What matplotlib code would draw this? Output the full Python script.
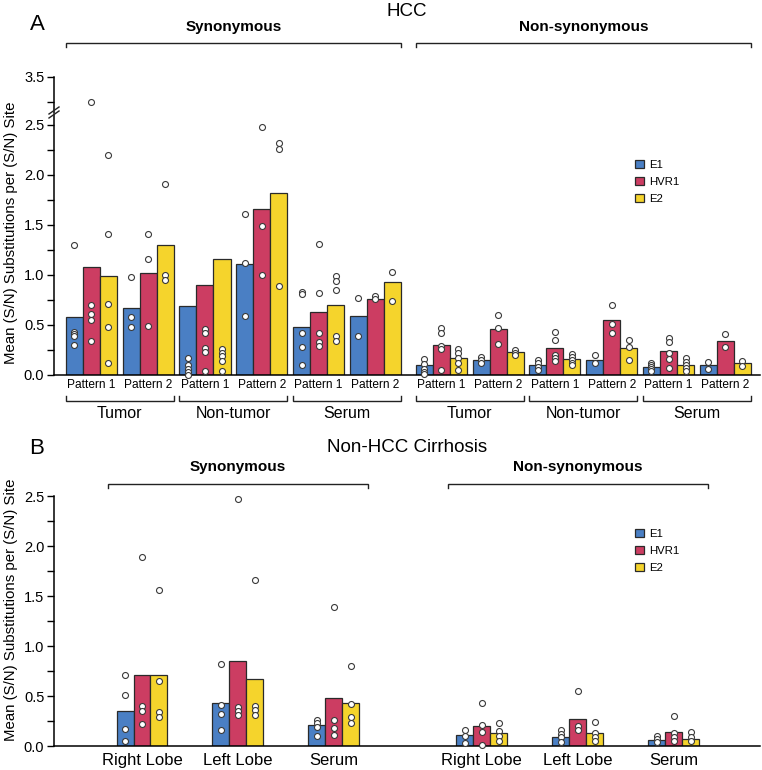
import numpy as np
import matplotlib
matplotlib.use("Agg")
import matplotlib.pyplot as plt
from matplotlib import transforms
from matplotlib.patches import Patch
from matplotlib.lines import Line2D

plt.rcParams['font.family'] = ['Liberation Sans', 'DejaVu Sans']

# ---------------- data ----------------
regions = ['E1', 'HVR1', 'E2']
colors = ['#4a7fc4', '#cc3d62', '#f5d42c']

# Panel A (HCC): 6 synonymous groups then 6 non-synonymous groups
hcc_tissues = ['Tumor', 'Non-tumor', 'Serum']
hcc_patterns = ['Pattern 1', 'Pattern 2']

hcc_e1 = [0.58, 0.67, 0.69, 1.11, 0.48, 0.59,
          0.10, 0.15, 0.10, 0.15, 0.08, 0.10]
hcc_hvr1 = [1.08, 1.02, 0.90, 1.66, 0.63, 0.76,
            0.30, 0.46, 0.27, 0.55, 0.24, 0.34]
hcc_e2 = [0.99, 1.30, 1.16, 1.82, 0.70, 0.93,
          0.17, 0.23, 0.16, 0.27, 0.10, 0.12]

hcc_e1_pts = [[1.30, 0.43, 0.41, 0.39, 0.30], [0.98, 0.58, 0.48],
              [0.17, 0.10, 0.06, 0.03, 0.00], [1.61, 1.12, 0.59],
              [0.83, 0.81, 0.42, 0.28, 0.10], [0.77, 0.39],
              [0.16, 0.11, 0.06, 0.03, 0.01], [0.18, 0.15, 0.12],
              [0.15, 0.12, 0.08, 0.05], [0.20, 0.12],
              [0.12, 0.10, 0.08, 0.06, 0.04], [0.13, 0.06]]
hcc_hvr1_pts = [[3.25, 0.70, 0.61, 0.55, 0.34], [1.41, 1.16, 0.49],
                [0.46, 0.42, 0.27, 0.23, 0.04], [2.48, 1.49, 1.00],
                [1.31, 0.82, 0.42, 0.33, 0.29], [0.79, 0.76],
                [0.47, 0.42, 0.29, 0.26, 0.05], [0.60, 0.47, 0.31],
                [0.43, 0.35, 0.20, 0.17, 0.14], [0.70, 0.51, 0.42],
                [0.37, 0.33, 0.22, 0.16, 0.07], [0.41, 0.28]]
hcc_e2_pts = [[2.20, 1.41, 0.71, 0.48, 0.12], [1.91, 1.00, 0.95],
              [0.26, 0.22, 0.19, 0.14, 0.04], [2.32, 2.26, 0.89],
              [0.99, 0.94, 0.85, 0.39, 0.34], [1.03, 0.74],
              [0.26, 0.22, 0.17, 0.12, 0.05], [0.25, 0.22, 0.20],
              [0.21, 0.18, 0.15, 0.12, 0.10], [0.35, 0.28, 0.15],
              [0.17, 0.13, 0.10, 0.07, 0.04], [0.14, 0.09]]

# Panel B (Non-HCC cirrhosis): 3 synonymous groups then 3 non-synonymous
cir_sites = ['Right Lobe', 'Left Lobe', 'Serum']

cir_e1 = [0.35, 0.43, 0.21, 0.11, 0.09, 0.06]
cir_hvr1 = [0.71, 0.85, 0.48, 0.20, 0.27, 0.14]
cir_e2 = [0.71, 0.67, 0.43, 0.13, 0.13, 0.07]

cir_e1_pts = [[0.71, 0.51, 0.17, 0.05], [0.82, 0.41, 0.32, 0.16],
              [0.26, 0.23, 0.19, 0.10], [0.16, 0.10, 0.03],
              [0.16, 0.12, 0.09, 0.04], [0.10, 0.07, 0.04]]
cir_hvr1_pts = [[1.89, 0.40, 0.35, 0.22], [2.47, 0.39, 0.35, 0.31],
                [1.39, 0.26, 0.18, 0.11], [0.43, 0.21, 0.14, 0.01],
                [0.55, 0.20, 0.16], [0.30, 0.13, 0.09, 0.05]]
cir_e2_pts = [[1.56, 0.65, 0.34, 0.29], [1.66, 0.40, 0.36, 0.31],
              [0.80, 0.42, 0.29, 0.23], [0.23, 0.15, 0.10, 0.05],
              [0.24, 0.13, 0.09, 0.05], [0.14, 0.09, 0.05]]

# ---------------- layout helpers ----------------
W, H = 762, 770
fig = plt.figure(figsize=(W / 100, H / 100), dpi=100)


def fx(px):
    return px / W


def fy(py):
    return 1 - py / H


def axes_px(left, top, right, bottom):
    return fig.add_axes([fx(left), fy(bottom), (right - left) / W, (bottom - top) / H])


def style_y(ax, majors, minors, fmt='{:.1f}'):
    for s in ['top', 'right']:
        ax.spines[s].set_visible(False)
    ax.spines['left'].set_linewidth(1.1)
    ax.spines['bottom'].set_linewidth(1.1)
    ax.set_yticks(majors)
    ax.set_yticklabels([fmt.format(v) for v in majors])
    ax.set_yticks(minors, minor=True)
    ax.tick_params(axis='y', which='both', direction='out', width=1.0, labelsize=10.5)
    ax.tick_params(axis='y', which='major', length=5, pad=2)
    ax.tick_params(axis='y', which='minor', length=5)


def draw_bars(ax, pos, w, means, pts, lo=None, hi=None):
    offs = [-w, 0, w]
    for k in range(3):
        xs = pos + offs[k]
        ax.bar(xs, means[k], width=w, color=colors[k], edgecolor='#2a2a2a',
               linewidth=0.9, zorder=2)
        for x, vals in zip(xs, pts[k]):
            v = np.array(vals)
            if lo is not None:
                v = v[v > lo]
            if hi is not None:
                v = v[v <= hi]
            ax.plot(np.full(len(v), x), v, 'o', ms=4.3, mfc='white', mec='#3a3a3a',
                    mew=0.8, zorder=3, clip_on=False, ls='none')


def bracket(ax, x0, x1, ypx, tick_px):
    tr = transforms.blended_transform_factory(ax.transData, fig.transFigure)
    y = fy(ypx)
    t = fy(ypx + tick_px)
    ax.plot([x0, x0, x1, x1], [t, y, y, t], color='#222222', lw=1.0,
            transform=tr, clip_on=False, solid_joinstyle='miter')


def label_at(ax, x, ypx, text, **kw):
    tr = transforms.blended_transform_factory(ax.transData, fig.transFigure)
    ax.text(x, fy(ypx), text, transform=tr, ha='center', va='center', **kw)


def add_legend(ax, left_px, top_px):
    handles = [Patch(facecolor=c, edgecolor='#2a2a2a', linewidth=0.9) for c in colors]
    ax.legend(handles, regions, loc='upper left', bbox_to_anchor=(fx(left_px), fy(top_px)),
              bbox_transform=fig.transFigure, frameon=False, fontsize=8.2,
              handlelength=0.75, handleheight=0.75, handletextpad=0.5,
              labelspacing=0.6, borderpad=0, borderaxespad=0)


# ---------------- panel A ----------------
wa = 0.3
pos_a = np.arange(12) + np.where(np.arange(12) >= 6, 0.16, 0.0)
xlim_a = (-0.657, 11.77)

axA = axes_px(54, 115, 760, 375)
axA_up = axes_px(54, 77, 760, 113)

means_a = [np.array(hcc_e1), np.array(hcc_hvr1), np.array(hcc_e2)]
pts_a = [hcc_e1_pts, hcc_hvr1_pts, hcc_e2_pts]
draw_bars(axA, pos_a, wa, means_a, pts_a, hi=2.6)
axA.set_xlim(*xlim_a)
axA.set_ylim(0, 2.6)
style_y(axA, np.arange(0, 2.51, 0.5), np.arange(0.25, 2.6, 0.5))
axA.set_xticks(pos_a)
axA.set_xticklabels(hcc_patterns * 6, fontsize=8.6)
axA.tick_params(axis='x', length=0, pad=3)

# upper part of the broken axis
for k in range(3):
    xs = pos_a + [-wa, 0, wa][k]
    for x, vals in zip(xs, pts_a[k]):
        v = np.array(vals)
        v = v[v > 2.6]
        axA_up.plot(np.full(len(v), x), v, 'o', ms=4.3, mfc='white', mec='#3a3a3a',
                    mew=0.8, ls='none', clip_on=False)
axA_up.set_xlim(*xlim_a)
axA_up.set_ylim(3.14, 3.5)
style_y(axA_up, [3.5], [3.25])
axA_up.spines['bottom'].set_visible(False)
axA_up.set_xticks([])
axA_up.patch.set_alpha(0)

# break marks on the y axis
for dy in (0, 4):
    fig.add_artist(Line2D([fx(49), fx(59)], [fy(118 - dy), fy(111 - dy)],
                          color='#222222', lw=1.0))

# bottom brackets: tissue groups
for i, name in enumerate(hcc_tissues * 2):
    a, b = 2 * i, 2 * i + 1
    x0, x1 = pos_a[a] - 1.5 * wa, pos_a[b] + 1.5 * wa
    bracket(axA, x0, x1, 400.5, -4.5)
    label_at(axA, (x0 + x1) / 2, 413, name, fontsize=11.5)

# top brackets
bracket(axA, pos_a[0] - 1.5 * wa, pos_a[5] + 1.5 * wa, 42.7, 4.5)
bracket(axA, pos_a[6] - 1.5 * wa, pos_a[11] + 1.5 * wa, 42.7, 4.5)
label_at(axA, (pos_a[0] + pos_a[5]) / 2, 27.5, 'Synonymous', fontsize=11, fontweight='bold')
label_at(axA, (pos_a[6] + pos_a[11]) / 2, 27.5, 'Non-synonymous', fontsize=11, fontweight='bold')

add_legend(axA, 635, 160)

fig.text(fx(37), fy(25), 'A', fontsize=16, ha='center', va='center')
fig.text(fx(407), fy(11), 'HCC', fontsize=13.5, ha='center', va='center')
fig.text(fx(11), fy(233), 'Mean (S/N) Substitutions per (S/N) Site', rotation=90,
         fontsize=10.8, ha='center', va='center')

# ---------------- panel B ----------------
wb = 0.177
pos_b = np.array([0, 1, 2, 3.54, 4.54, 5.54])
axB = axes_px(54, 496, 760, 746)
means_b = [np.array(cir_e1), np.array(cir_hvr1), np.array(cir_e2)]
pts_b = [cir_e1_pts, cir_hvr1_pts, cir_e2_pts]
draw_bars(axB, pos_b, wb, means_b, pts_b)
axB.set_xlim(-0.917, 6.44)
axB.set_ylim(0, 2.5)
style_y(axB, np.arange(0, 2.51, 0.5), np.arange(0.25, 2.5, 0.5))
axB.set_xticks(pos_b)
axB.set_xticklabels(cir_sites * 2, fontsize=12)
axB.tick_params(axis='x', length=0, pad=5)

pad = 0.09
bracket(axB, pos_b[0] - 1.5 * wb - pad, pos_b[2] + 1.5 * wb + pad, 484, 4)
bracket(axB, pos_b[3] - 1.5 * wb - pad, pos_b[5] + 1.5 * wb + pad, 484, 4)
label_at(axB, (pos_b[0] + pos_b[2]) / 2, 467, 'Synonymous', fontsize=11, fontweight='bold')
label_at(axB, (pos_b[3] + pos_b[5]) / 2, 467, 'Non-synonymous', fontsize=11, fontweight='bold')

add_legend(axB, 635, 529)

fig.text(fx(37), fy(448), 'B', fontsize=16, ha='center', va='center')
fig.text(fx(407), fy(448), 'Non-HCC Cirrhosis', fontsize=13.5, ha='center', va='center')
fig.text(fx(11), fy(610), 'Mean (S/N) Substitutions per (S/N) Site', rotation=90,
         fontsize=10.8, ha='center', va='center')

fig.savefig('out.png', dpi=100)
